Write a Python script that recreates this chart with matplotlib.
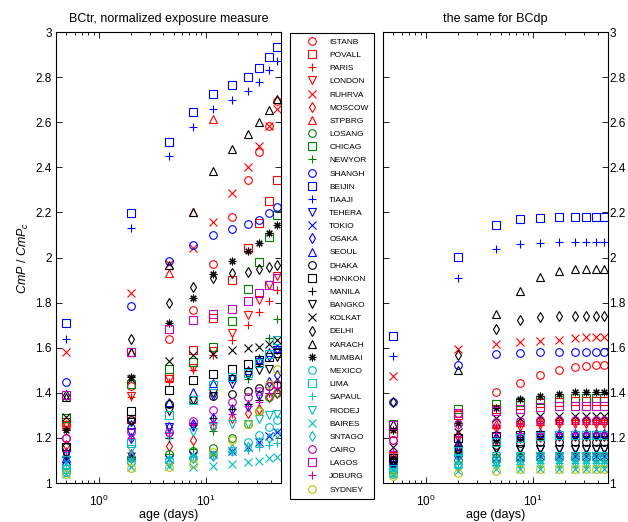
import numpy as np
import matplotlib
matplotlib.use('Agg')
import matplotlib.pyplot as plt
from matplotlib.ticker import FormatStrFormatter

plt.rcParams['font.family'] = ['Liberation Sans', 'DejaVu Sans']
plt.rcParams['mathtext.fontset'] = 'custom'
plt.rcParams['mathtext.rm'] = 'Liberation Sans'
plt.rcParams['mathtext.it'] = 'Liberation Sans:italic'

# ages of the age bins (days)
ages = [0.5, 2, 4.5, 7.5, 11.5, 17.5, 24.5, 31.5, 38.5, 45.5]

cities = ['ISTANB', 'POVALL', 'PARIS', 'LONDON', 'RUHRVA', 'MOSCOW', 'STPBRG',
          'LOSANG', 'CHICAG', 'NEWYOR',
          'SHANGH', 'BEIJIN', 'TIAAJI', 'TEHERA', 'TOKIO', 'OSAKA', 'SEOUL',
          'DHAKA', 'HONKON', 'MANILA', 'BANGKO', 'KOLKAT', 'DELHI', 'KARACH', 'MUMBAI',
          'MEXICO', 'LIMA', 'SAPAUL', 'RIODEJ', 'BAIRES', 'SNTAGO',
          'CAIRO', 'LAGOS', 'JOBURG',
          'SYDNEY']
colors = ['r'] * 7 + ['g'] * 3 + ['b'] * 7 + ['k'] * 8 + ['c'] * 6 + ['m'] * 3 + ['y']
markers = ['o', 's', '+', 'v', 'x', 'd', '^',
           'o', 's', '+',
           'o', 's', '+', 'v', 'x', 'd', '^',
           'o', 's', '+', 'v', 'x', 'd', '^', (8, 2, 0),
           'o', 's', '+', 'v', 'x', 'd',
           'o', 's', '+',
           'o']

# BCtr, one row per city
bctr = [
    [1.20, 1.43, 1.64, 1.765, 1.97, 2.178, 2.344, 2.467, 2.584, 2.692],   # ISTANB
    [1.27, 1.285, 1.47, 1.588, 1.73, 1.90, 2.04, 2.151, 2.25, 2.344],     # POVALL
    [1.24, 1.38, 1.45, 1.50, 1.568, 1.635, 1.70, 1.758, 1.807, 1.855],    # PARIS
    [1.255, 1.385, 1.462, 1.51, 1.585, 1.666, 1.745, 1.81, 1.88, 1.92],   # LONDON
    [1.58, 1.844, 1.97, 2.04, 2.156, 2.285, 2.40, 2.496, 2.584, 2.659],   # RUHRVA
    [1.17, 1.13, 1.166, 1.19, 1.25, 1.287, 1.309, 1.33, 1.38, 1.40],      # MOSCOW
    [1.26, 1.58, 1.93, 2.20, 2.615, 3.1, 3.3, 3.5, 3.7, 3.9],             # STPBRG
    [1.08, 1.11, 1.13, 1.14, 1.155, 1.198, 1.26, 1.32, 1.38, 1.40],       # LOSANG
    [1.29, 1.44, 1.504, 1.535, 1.605, 1.72, 1.859, 1.98, 2.09, 2.19],     # CHICAG
    [1.12, 1.12, 1.13, 1.15, 1.23, 1.33, 1.46, 1.555, 1.645, 1.727],      # NEWYOR
    [1.448, 1.786, 1.984, 2.055, 2.10, 2.125, 2.147, 2.166, 2.196, 2.222],  # SHANGH
    [1.71, 2.196, 2.511, 2.647, 2.724, 2.764, 2.80, 2.841, 2.887, 2.932],   # BEIJIN
    [1.637, 2.13, 2.45, 2.58, 2.66, 2.70, 2.74, 2.78, 2.83, 2.87],          # TIAAJI
    [1.10, 1.22, 1.25, 1.25, 1.388, 1.44, 1.48, 1.536, 1.56, 1.588],      # TEHERA
    [1.10, 1.12, 1.107, 1.125, 1.13, 1.144, 1.16, 1.18, 1.21, 1.225],     # TOKIO
    [1.13, 1.20, 1.25, 1.26, 1.29, 1.33, 1.34, 1.39, 1.45, 1.477],        # OSAKA
    [1.11, 1.262, 1.358, 1.403, 1.443, 1.47, 1.50, 1.55, 1.58, 1.60],     # SEOUL
    [1.16, 1.28, 1.35, 1.37, 1.388, 1.396, 1.41, 1.42, 1.428, 1.433],     # DHAKA
    [1.16, 1.321, 1.413, 1.455, 1.484, 1.507, 1.529, 1.544, 1.56, 1.575], # HONKON
    [1.12, 1.117, 1.20, 1.255, 1.29, 1.33, 1.35, 1.37, 1.40, 1.447],      # MANILA
    [1.13, 1.27, 1.32, 1.37, 1.40, 1.46, 1.48, 1.50, 1.507, 1.558],       # BANGKO
    [1.294, 1.46, 1.539, 1.566, 1.573, 1.588, 1.597, 1.603, 1.615, 1.632],  # KOLKAT
    [1.39, 1.637, 1.797, 1.87, 1.907, 1.93, 1.937, 1.948, 1.959, 1.966],    # DELHI
    [1.38, 1.58, 1.966, 2.20, 2.384, 2.481, 2.548, 2.601, 2.652, 2.702],    # KARACH
    [1.233, 1.469, 1.708, 1.82, 1.926, 1.986, 2.029, 2.066, 2.107, 2.144],  # MUMBAI
    [1.05, 1.094, 1.10, 1.11, 1.125, 1.14, 1.18, 1.215, 1.247, 1.28],     # MEXICO
    [1.06, 1.176, 1.30, 1.37, 1.435, 1.47, 1.49, 1.53, 1.573, 1.633],     # LIMA
    [1.08, 1.10, 1.11, 1.12, 1.13, 1.136, 1.148, 1.159, 1.17, 1.176],     # SAPAUL
    [1.10, 1.15, 1.21, 1.225, 1.25, 1.26, 1.262, 1.284, 1.30, 1.307],     # RIODEJ
    [1.04, 1.07, 1.075, 1.07, 1.077, 1.084, 1.092, 1.099, 1.11, 1.117],   # BAIRES
    [1.07, 1.12, 1.09, 1.11, 1.12, 1.15, 1.16, 1.18, 1.20, 1.22],         # SNTAGO
    [1.20, 1.228, 1.225, 1.277, 1.324, 1.36, 1.38, 1.41, 1.43, 1.44],     # CAIRO
    [1.39, 1.582, 1.685, 1.724, 1.751, 1.773, 1.807, 1.843, 1.877, 1.911],  # LAGOS
    [1.14, 1.20, 1.22, 1.262, 1.27, 1.307, 1.34, 1.36, 1.40, 1.42],       # JOBURG
    [1.04, 1.065, 1.07, 1.085, 1.136, 1.19, 1.262, 1.32, 1.44, 1.505],    # SYDNEY
]

# BCdp, one row per city
bcdp = [
    [1.19, 1.309, 1.405, 1.442, 1.479, 1.501, 1.516, 1.52, 1.523, 1.523],  # ISTANB
    [1.22, 1.30, 1.33, 1.345, 1.355, 1.36, 1.362, 1.362, 1.362, 1.362],    # POVALL
    [1.12, 1.21, 1.25, 1.26, 1.265, 1.27, 1.27, 1.27, 1.27, 1.27],         # PARIS
    [1.12, 1.20, 1.24, 1.25, 1.255, 1.26, 1.26, 1.26, 1.26, 1.26],         # LONDON
    [1.474, 1.593, 1.616, 1.624, 1.63, 1.634, 1.643, 1.646, 1.646, 1.646],  # RUHRVA
    [1.10, 1.16, 1.19, 1.20, 1.205, 1.21, 1.21, 1.21, 1.21, 1.21],         # MOSCOW
    [1.13, 1.22, 1.26, 1.27, 1.275, 1.28, 1.28, 1.28, 1.28, 1.28],         # STPBRG
    [1.06, 1.10, 1.11, 1.115, 1.117, 1.117, 1.117, 1.117, 1.117, 1.117],   # LOSANG
    [1.26, 1.327, 1.35, 1.36, 1.37, 1.375, 1.376, 1.376, 1.376, 1.376],    # CHICAG
    [1.07, 1.12, 1.13, 1.13, 1.13, 1.13, 1.13, 1.13, 1.13, 1.13],          # NEWYOR
    [1.36, 1.523, 1.572, 1.578, 1.581, 1.581, 1.581, 1.581, 1.581, 1.581],  # SHANGH
    [1.652, 2.004, 2.143, 2.171, 2.177, 2.18, 2.18, 2.18, 2.18, 2.18],      # BEIJIN
    [1.563, 1.908, 2.036, 2.058, 2.066, 2.068, 2.068, 2.068, 2.068, 2.068],  # TIAAJI
    [1.08, 1.13, 1.15, 1.15, 1.152, 1.152, 1.152, 1.152, 1.152, 1.152],    # TEHERA
    [1.06, 1.10, 1.11, 1.115, 1.12, 1.12, 1.12, 1.12, 1.12, 1.12],         # TOKIO
    [1.10, 1.17, 1.20, 1.21, 1.215, 1.215, 1.215, 1.215, 1.215, 1.215],    # OSAKA
    [1.10, 1.18, 1.21, 1.215, 1.22, 1.22, 1.22, 1.22, 1.22, 1.22],         # SEOUL
    [1.10, 1.15, 1.17, 1.178, 1.18, 1.18, 1.18, 1.18, 1.18, 1.18],         # DHAKA
    [1.11, 1.198, 1.21, 1.212, 1.215, 1.215, 1.215, 1.215, 1.215, 1.215],  # HONKON
    [1.11, 1.18, 1.20, 1.205, 1.21, 1.21, 1.21, 1.21, 1.21, 1.21],         # MANILA
    [1.09, 1.14, 1.15, 1.152, 1.152, 1.152, 1.152, 1.152, 1.152, 1.152],   # BANGKO
    [1.16, 1.228, 1.287, 1.29, 1.295, 1.297, 1.297, 1.297, 1.297, 1.297],  # KOLKAT
    [1.36, 1.568, 1.683, 1.723, 1.738, 1.742, 1.742, 1.742, 1.742, 1.742],  # DELHI
    [1.26, 1.501, 1.749, 1.853, 1.915, 1.941, 1.948, 1.95, 1.95, 1.95],    # KARACH
    [1.235, 1.265, 1.331, 1.371, 1.387, 1.395, 1.402, 1.402, 1.402, 1.402],  # MUMBAI
    [1.04, 1.08, 1.10, 1.105, 1.11, 1.11, 1.11, 1.11, 1.11, 1.11],         # MEXICO
    [1.05, 1.14, 1.18, 1.20, 1.21, 1.213, 1.213, 1.213, 1.213, 1.213],     # LIMA
    [1.05, 1.07, 1.08, 1.085, 1.087, 1.087, 1.087, 1.087, 1.087, 1.087],   # SAPAUL
    [1.06, 1.11, 1.12, 1.12, 1.12, 1.12, 1.12, 1.12, 1.12, 1.12],          # RIODEJ
    [1.04, 1.055, 1.06, 1.06, 1.06, 1.06, 1.06, 1.06, 1.06, 1.06],         # BAIRES
    [1.05, 1.08, 1.09, 1.09, 1.09, 1.09, 1.09, 1.09, 1.09, 1.09],          # SNTAGO
    [1.19, 1.26, 1.27, 1.275, 1.278, 1.279, 1.28, 1.28, 1.28, 1.28],       # CAIRO
    [1.257, 1.31, 1.32, 1.33, 1.335, 1.34, 1.341, 1.341, 1.341, 1.341],    # LAGOS
    [1.14, 1.21, 1.22, 1.22, 1.22, 1.22, 1.22, 1.22, 1.22, 1.22],          # JOBURG
    [1.03, 1.046, 1.055, 1.06, 1.061, 1.061, 1.061, 1.061, 1.061, 1.061],  # SYDNEY
]

W, H = 628, 522
fig = plt.figure(figsize=(W / 100, H / 100), dpi=100)
ax1 = fig.add_axes([56 / W, 39 / H, 225 / W, 451 / H])
ax2 = fig.add_axes([383 / W, 39 / H, 225 / W, 451 / H])

handles = []
for ax, data in ((ax1, bctr), (ax2, bcdp)):
    for i in range(len(cities)):
        ln, = ax.plot(ages, data[i], ls='none', marker=markers[i], ms=5.5,
                      mfc='none', mec=colors[i], mew=0.8, label=cities[i])
        if ax is ax1:
            handles.append(ln)
    ax.set_xscale('log')
    ax.set_xlim(0.4, 50)
    ax.set_ylim(1, 3)
    ax.set_yticks(np.arange(1, 3.01, 0.2))
    ax.yaxis.set_major_formatter(FormatStrFormatter('%g'))
    ax.tick_params(which='both', direction='in', top=True, right=True,
                   labelsize=8.5, width=0.6)
    ax.tick_params(which='major', length=4)
    ax.tick_params(which='minor', length=2.5)
    ax.tick_params(axis='x', pad=8)
    ax.set_xlabel('age (days)', fontsize=9, labelpad=0)
    for sp in ax.spines.values():
        sp.set_linewidth(0.8)

ax1.tick_params(axis='y', pad=3)
ax2.tick_params(axis='y', labelleft=False, labelright=True, pad=1)

ax1.set_title('BCtr, normalized exposure measure', fontsize=9, pad=7)
ax2.set_title('the same for BCdp', fontsize=9, pad=7)
ax1.set_ylabel(r'$CmP$ / $CmP_c$', fontsize=9, labelpad=3)

leg = fig.legend(handles, cities, loc='upper left',
                 bbox_to_anchor=(290 / W, 25 / H, 84 / W, 464 / H),
                 bbox_transform=fig.transFigure, mode='expand',
                 fontsize=6, frameon=True, fancybox=False, edgecolor='k',
                 labelspacing=0.64, handlelength=4.0, handletextpad=0.1,
                 borderpad=0.6, borderaxespad=0, framealpha=1)
leg.get_frame().set_linewidth(0.8)

fig.savefig('out.png', dpi=100)
